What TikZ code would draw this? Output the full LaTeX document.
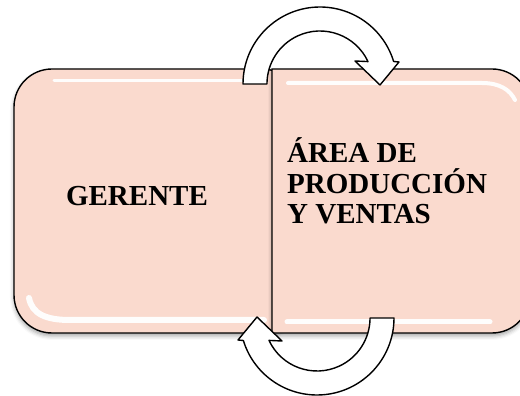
\documentclass[tikz,border=0pt]{standalone}
\usepackage{fontspec}
\setmainfont{Liberation Serif}
\usetikzlibrary{shadows.blur}
\definecolor{peach}{RGB}{250,218,206}
\tikzset{
  boxstyle/.style={fill=peach, draw=black, line width=1.4pt,
    blur shadow={shadow xshift=0pt, shadow yshift=-3pt, shadow blur radius=4pt, shadow opacity=35}},
  gloss/.style={draw=white, line cap=round, opacity=0.95},
  circarrow/.style={fill=white, draw=black, line width=1.4pt, line join=round},
  label/.style={font=\bfseries\fontsize{29}{30.5}\selectfont, inner sep=0pt, text=black}
}
\begin{document}
\begin{tikzpicture}[x=1pt,y=1pt]
\useasboundingbox (0,0) rectangle (520,396);
\clip (0,0) rectangle (520,396);
% left box
\draw[boxstyle, rounded corners=38pt] (14,63) rectangle (300,327);
\draw[gloss, line width=3pt] (54,315) -- (262,315);
\draw[gloss, line width=6pt] (29,98) .. controls (32,82) and (46,76) .. (70,76) -- (264,76);
% right box
\draw[boxstyle] (272,63) -- (272,327) -- (492,327) arc[start angle=90,end angle=0,radius=38]
  -- (530,101) arc[start angle=0,end angle=-90,radius=38] -- cycle;
\draw[gloss, line width=4pt] (288,313) -- (482,313) .. controls (500,313) and (510,306) .. (515,296);
\draw[gloss, line width=5pt] (287,74) -- (490,74);
% texts
\node[label, anchor=base] (gerente) at (137,190) {GERENTE};
\node[label, anchor=base west, align=left] (area) at (287,172) {ÁREA DE\\PRODUCCIÓN\\Y VENTAS};
% top circular arrow
\begin{scope}[shift={(320,312)}]
\draw[circarrow] (-77,0) arc[start angle=180, end angle=17, radius=77] -- (79,22) -- (60,-1)
  -- (35,23) -- (48,22.4) arc[start angle=25, end angle=180, radius=53] -- cycle;
\end{scope}
% bottom circular arrow
\begin{scope}[shift={(317,78)}, rotate=180]
\draw[circarrow] (-77,0) arc[start angle=180, end angle=17, radius=77] -- (79,22) -- (60,-1)
  -- (35,23) -- (48,22.4) arc[start angle=25, end angle=180, radius=53] -- cycle;
\end{scope}
\end{tikzpicture}
\end{document}
